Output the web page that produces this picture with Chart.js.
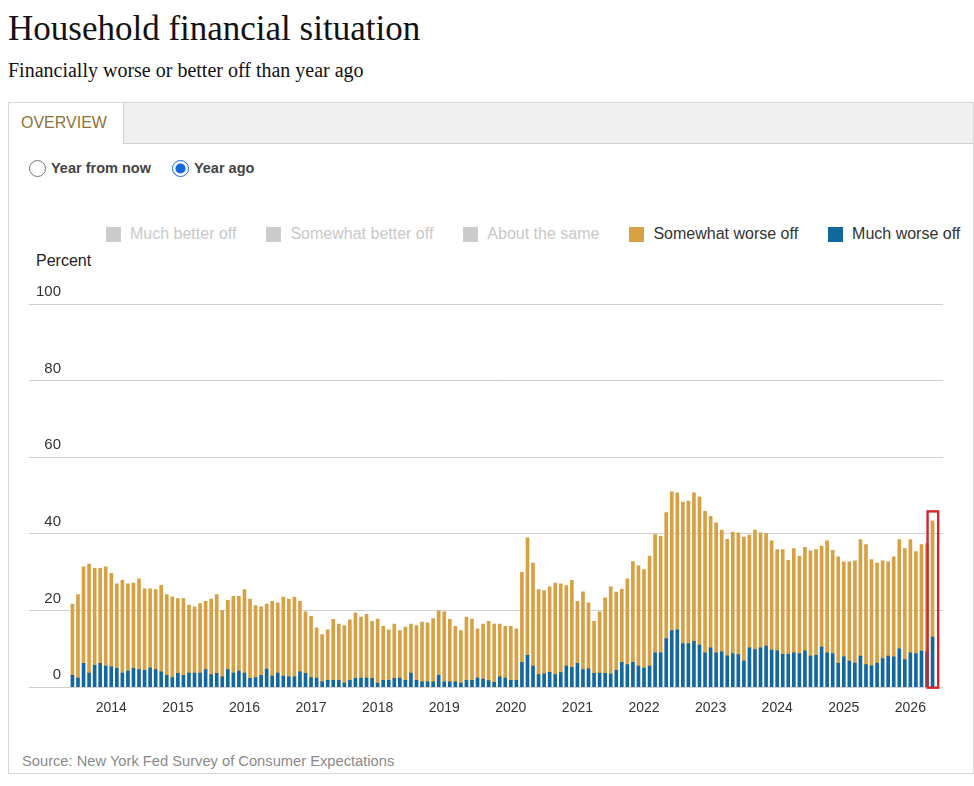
<!DOCTYPE html>
<html>
<head>
<meta charset="utf-8">
<title>Household financial situation</title>
<script src="https://cdn.jsdelivr.net/npm/chart.js@4.4.1/dist/chart.umd.min.js"></script>
<style>
  body { margin: 0; width: 974px; height: 786px; overflow: hidden; background: #fff; position: relative;
         font-family: "Liberation Sans", Arial, sans-serif; }
  h1 { position: absolute; left: 8px; top: 11px; margin: 0; font: normal 35px/35px "Liberation Serif", serif; color: #111; white-space: nowrap; }
  .sub { position: absolute; left: 8px; top: 60px; font: 20px/20px "Liberation Serif", serif; color: #111; white-space: nowrap; }
  .panel { position: absolute; left: 8px; top: 102px; width: 966px; height: 672px; box-sizing: border-box; border: 1px solid #d6d6d6; }
  .tabs { position: absolute; left: 0; top: 0; right: 0; height: 41px; box-sizing: border-box; background: #f0f0f0; border-bottom: 1px solid #d2d2d2; }
  .tab { position: absolute; left: 0; top: 0; width: 115px; height: 41px; box-sizing: border-box; background: #fff;
         border-right: 1px solid #d2d2d2; color: #8d7339; font-size: 16px; line-height: 40px; padding-left: 12px; }
  .radios { position: absolute; left: 29px; top: 158px; display: flex; align-items: center; font-size: 14.5px; font-weight: bold; color: #444; }
  .radios input { width: 17px; height: 17px; margin: 0 5px 0 0; accent-color: #1769e0; }
  .radios label { display: flex; align-items: center; margin-right: 21px; height: 20px; }
  #legend { position: absolute; left: 106px; top: 225px; display: flex; align-items: center; font-size: 16px; white-space: nowrap; }
  #legend .item { display: flex; align-items: center; margin-right: 30px; }
  #legend .box { width: 15px; height: 15px; margin-right: 9px; }
  .percent { position: absolute; left: 36px; top: 252px; font-size: 16px; color: #222; }
  .wrap { position: absolute; left: 20px; top: 280px; width: 940px; height: 444px; }
  .source { position: absolute; left: 22px; top: 753px; font-size: 14.7px; color: #8a8a8a; }
</style>
</head>
<body>
<h1>Household financial situation</h1>
<div class="sub">Financially worse or better off than year ago</div>
<div class="panel">
  <div class="tabs"><div class="tab">OVERVIEW</div></div>
</div>
<div class="radios">
  <label><input type="radio" name="horizon">Year from now</label>
  <label><input type="radio" name="horizon" checked>Year ago</label>
</div>
<div id="legend"></div>
<div class="percent">Percent</div>
<div class="wrap"><canvas id="chart"></canvas></div>
<div class="source">Source: New York Fed Survey of Consumer Expectations</div>

<script>
// monthly survey, June 2013 onwards
const startYear = 2013;
const startMonth = 6;
const monthCount = 156;
const months = [];
for (let i = 0; i < monthCount; i++) {
    const m = startMonth - 1 + i;
    months.push((startYear + Math.floor(m / 12)) + '-' + String(m % 12 + 1).padStart(2, '0'));
}

const yearLabels = ['2014', '2015', '2016', '2017', '2018', '2019', '2020', '2021', '2022', '2023', '2024', '2025', '2026'];
const yearTicks = yearLabels.map(y => months.indexOf(y + '-01'));
const percentTicks = [0, 20, 40, 60, 80, 100];

const muchWorse = [
    3.1, 2.4, 6.2, 3.7, 5.7, 6.2, 5.5, 5.3, 4.9, 3.7, 4.2, 4.9, 4.6, 4.4, 5.0, 4.6, 4.0, 3.1, 2.5, 3.6,
    3.1, 3.7, 3.7, 3.7, 4.6, 3.3, 3.6, 2.7, 4.6, 3.7, 4.2, 3.7, 2.3, 2.5, 3.1, 4.7, 2.9, 3.7, 2.9, 2.7,
    2.7, 4.0, 3.6, 2.5, 2.4, 1.4, 1.8, 1.8, 1.8, 1.1, 1.8, 2.3, 2.4, 2.4, 2.3, 1.1, 1.8, 1.8, 2.3, 2.4,
    1.8, 3.7, 1.8, 1.4, 1.4, 1.4, 3.1, 1.4, 1.4, 1.4, 1.1, 1.8, 1.8, 2.4, 2.1, 1.7, 1.3, 2.7, 2.4, 1.8,
    1.8, 6.5, 8.3, 5.5, 3.3, 3.5, 3.9, 3.3, 3.8, 5.5, 5.2, 6.2, 4.6, 4.8, 3.6, 3.7, 3.6, 3.4, 4.4, 6.5,
    5.9, 6.5, 5.5, 5.0, 5.5, 9.0, 9.0, 12.7, 14.8, 15.0, 11.4, 11.4, 12.0, 11.0, 9.0, 10.3, 9.0, 9.2, 8.2, 8.8,
    8.5, 6.8, 10.3, 9.8, 10.3, 10.7, 9.7, 9.5, 8.6, 8.6, 9.0, 8.8, 9.5, 8.1, 8.3, 10.5, 9.0, 8.8, 6.2, 7.9,
    6.8, 6.3, 8.1, 5.9, 5.6, 6.3, 7.5, 8.1, 7.9, 10.0, 7.2, 9.0, 8.8, 9.4, 9.2, 13.1
];

const somewhatWorse = [
    18.6, 21.8, 25.2, 28.4, 25.3, 24.8, 25.9, 24.4, 22.1, 24.2, 22.8, 22.3, 23.7, 21.3, 20.7, 20.9, 22.6, 21.1, 21.1, 19.5,
    20.0, 17.7, 17.3, 18.1, 17.8, 19.7, 20.6, 17.3, 18.1, 20.0, 19.5, 21.8, 20.7, 18.8, 17.9, 17.0, 19.5, 18.3, 20.6, 20.3,
    20.8, 18.4, 16.1, 16.0, 13.1, 12.3, 13.2, 15.9, 14.7, 15.0, 15.8, 17.1, 15.9, 16.6, 14.9, 16.7, 14.1, 13.2, 14.2, 12.4,
    13.9, 12.8, 14.3, 15.6, 15.4, 16.5, 16.8, 18.3, 16.3, 14.5, 13.7, 16.5, 16.0, 12.8, 14.4, 15.5, 15.2, 13.8, 13.5, 14.1,
    13.4, 23.5, 30.7, 26.9, 22.2, 21.7, 22.3, 23.9, 23.2, 21.0, 22.7, 16.2, 20.3, 17.2, 13.6, 16.0, 19.7, 22.8, 20.4, 19.1,
    22.4, 26.3, 26.2, 25.7, 28.7, 30.8, 30.4, 32.9, 36.2, 35.7, 36.9, 37.2, 38.7, 38.7, 36.9, 34.3, 33.9, 31.8, 30.4, 31.7,
    31.8, 32.4, 29.4, 31.2, 30.0, 29.4, 28.5, 26.4, 27.3, 24.5, 27.2, 25.4, 27.0, 27.5, 27.6, 26.3, 29.2, 26.9, 27.8, 24.8,
    25.9, 26.7, 30.4, 31.3, 27.7, 26.1, 25.5, 24.6, 26.1, 28.5, 29.0, 29.5, 26.6, 27.8, 28.3, 30.3
];

const GOLD = '#d6a043';
const BLUE = '#12679c';
const GREY = '#cccccc';

const toPoints = arr => arr.map((v, i) => ({ x: i, y: v }));

// outline around the latest month
const latestBox = {
    id: 'latestBox',
    afterDatasetsDraw(chart) {
        const { ctx, scales: { x, y } } = chart;
        const i = months.length - 1;
        const px = x.getPixelForValue(i);
        const top = y.getPixelForValue(muchWorse[i] + somewhatWorse[i]) - 9.5;
        const bottom = y.getPixelForValue(0) + 0.5;
        ctx.save();
        ctx.strokeStyle = '#d4252c';
        ctx.lineWidth = 2.4;
        ctx.strokeRect(px - 5, top, 10.6, bottom - top);
        ctx.restore();
    }
};

Chart.defaults.font.family = '"Liberation Sans", Arial, sans-serif';

const chart = new Chart(document.getElementById('chart'), {
    type: 'bar',
    data: {
        datasets: [
            { label: 'Much worse off', data: toPoints(muchWorse), backgroundColor: BLUE, barThickness: 3 },
            { label: 'Somewhat worse off', data: toPoints(somewhatWorse), backgroundColor: GOLD, barThickness: 3 },
            { label: 'About the same', data: [], backgroundColor: GREY, hidden: true },
            { label: 'Somewhat better off', data: [], backgroundColor: GREY, hidden: true },
            { label: 'Much better off', data: [], backgroundColor: GREY, hidden: true }
        ]
    },
    options: {
        responsive: true,
        maintainAspectRatio: false,
        animation: false,
        layout: { padding: { left: 9, right: 17, top: 24, bottom: 2 } },
        scales: {
            x: {
                type: 'linear',
                offset: false,
                stacked: true,
                min: -1.88,
                max: monthCount - 1 + 1.88,
                grid: { display: false },
                border: { display: false },
                afterBuildTicks: scale => { scale.ticks = yearTicks.map(v => ({ value: v })); },
                ticks: {
                    autoSkip: false,
                    maxRotation: 0,
                    padding: 5,
                    color: '#333',
                    font: { size: 14 },
                    callback: (v, idx) => yearLabels[idx]
                }
            },
            y: {
                stacked: true,
                min: 0,
                max: 100,
                border: { display: false },
                grid: { color: '#cfcfcf', tickLength: 33 },
                afterBuildTicks: scale => { scale.ticks = percentTicks.map(v => ({ value: v })); },
                afterFit: scale => { scale.width = 33; },
                ticks: {
                    padding: -32,
                    labelOffset: -12,
                    color: '#333',
                    font: { size: 15 }
                }
            }
        },
        plugins: {
            legend: { display: false },
            tooltip: { enabled: false }
        }
    },
    plugins: [latestBox]
});

// legend in the page, top of stack first
const legendEl = document.getElementById('legend');
chart.data.datasets.slice().reverse().forEach(ds => {
    const idx = chart.data.datasets.indexOf(ds);
    const on = chart.isDatasetVisible(idx);
    const item = document.createElement('div');
    item.className = 'item';
    item.innerHTML = '<span class="box" style="background:' + (on ? ds.backgroundColor : GREY) + '"></span>' +
        '<span style="color:' + (on ? '#333' : '#c8c8c8') + '">' + ds.label + '</span>';
    legendEl.appendChild(item);
});
</script>
</body>
</html>
